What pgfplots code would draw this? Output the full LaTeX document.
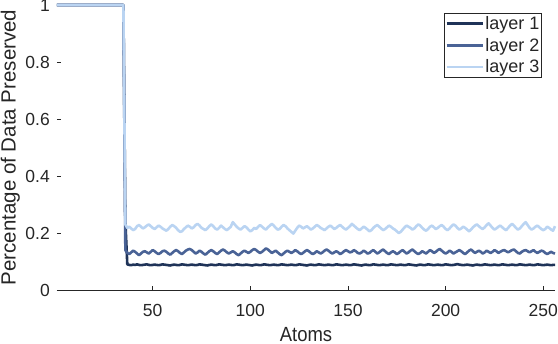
\documentclass[border=0pt]{standalone}
\usepackage{fontspec}
\setmainfont{Liberation Sans}
\newfontfamily\narrowsans[FakeStretch=0.9]{Liberation Sans}
\usepackage{pgfplots}
\usepackage{pgfplotstable}
\pgfplotsset{compat=1.18}

\definecolor{layerA}{HTML}{1F3358}
\definecolor{layerB}{HTML}{4A6396}
\definecolor{layerC}{HTML}{BAD4F2}
\definecolor{txt}{HTML}{262626}

% x, layer 1, layer 2, layer 3
\pgfplotstableread{
x a b c
1 1 1 1
35 1 1 1
36 0.24 0.14 0.23
37 0.09 0.13 0.218
38 0.088 0.126 0.222
39 0.087 0.132 0.216
40 0.089 0.138 0.21
41 0.088 0.134 0.214
42 0.09 0.128 0.224
43 0.088 0.122 0.228
44 0.087 0.128 0.222
45 0.088 0.134 0.216
46 0.089 0.136 0.22
47 0.09 0.132 0.226
48 0.088 0.128 0.23
49 0.087 0.134 0.224
50 0.088 0.14 0.218
51 0.089 0.136 0.214
52 0.088 0.13 0.22
53 0.087 0.126 0.226
54 0.088 0.13 0.222
55 0.09 0.136 0.216
56 0.089 0.138 0.212
57 0.088 0.134 0.208
58 0.087 0.128 0.214
59 0.086 0.124 0.222
60 0.088 0.13 0.228
61 0.089 0.136 0.224
62 0.088 0.14 0.218
63 0.087 0.136 0.21
64 0.088 0.13 0.204
65 0.09 0.126 0.206
66 0.089 0.132 0.214
67 0.088 0.138 0.22
68 0.087 0.142 0.226
69 0.088 0.144 0.222
70 0.089 0.14 0.216
71 0.088 0.134 0.22
72 0.087 0.128 0.228
73 0.088 0.132 0.232
74 0.09 0.138 0.226
75 0.089 0.134 0.218
76 0.088 0.128 0.214
77 0.087 0.124 0.21
78 0.086 0.13 0.216
79 0.088 0.136 0.224
80 0.089 0.14 0.23
81 0.088 0.136 0.224
82 0.087 0.13 0.216
83 0.088 0.126 0.212
84 0.09 0.132 0.218
85 0.089 0.138 0.226
86 0.088 0.142 0.22
87 0.087 0.138 0.214
88 0.088 0.132 0.21
89 0.089 0.128 0.216
90 0.088 0.132 0.222
91 0.087 0.136 0.238
92 0.088 0.132 0.23
93 0.09 0.126 0.222
94 0.089 0.122 0.216
95 0.088 0.128 0.212
96 0.087 0.134 0.218
97 0.088 0.138 0.224
98 0.089 0.134 0.22
99 0.088 0.13 0.212
100 0.087 0.134 0.206
101 0.086 0.14 0.21
102 0.088 0.144 0.218
103 0.089 0.14 0.214
104 0.088 0.134 0.222
105 0.087 0.13 0.228
106 0.088 0.134 0.222
107 0.09 0.14 0.216
108 0.089 0.146 0.212
109 0.088 0.142 0.22
110 0.087 0.136 0.226
111 0.088 0.13 0.232
112 0.089 0.134 0.226
113 0.088 0.138 0.218
114 0.087 0.132 0.212
115 0.088 0.126 0.214
116 0.09 0.122 0.222
117 0.089 0.128 0.228
118 0.088 0.134 0.224
119 0.087 0.138 0.216
120 0.088 0.134 0.21
121 0.089 0.13 0.204
122 0.088 0.134 0.198
123 0.087 0.14 0.208
124 0.088 0.136 0.218
125 0.09 0.13 0.226
126 0.089 0.126 0.222
127 0.088 0.13 0.216
128 0.087 0.136 0.22
129 0.086 0.14 0.224
130 0.088 0.136 0.218
131 0.089 0.13 0.212
132 0.088 0.126 0.216
133 0.087 0.13 0.222
134 0.088 0.136 0.228
135 0.09 0.132 0.224
136 0.089 0.128 0.218
137 0.088 0.132 0.214
138 0.087 0.138 0.21
139 0.088 0.142 0.216
140 0.089 0.138 0.222
141 0.088 0.132 0.226
142 0.087 0.128 0.22
143 0.088 0.132 0.214
144 0.09 0.136 0.218
145 0.089 0.132 0.224
146 0.088 0.126 0.228
147 0.087 0.13 0.222
148 0.088 0.136 0.216
149 0.089 0.14 0.212
150 0.088 0.136 0.218
151 0.087 0.132 0.224
152 0.088 0.134 0.232
153 0.09 0.14 0.226
154 0.089 0.136 0.22
155 0.088 0.13 0.214
156 0.087 0.128 0.21
157 0.086 0.132 0.216
158 0.088 0.138 0.222
159 0.089 0.134 0.218
160 0.088 0.128 0.212
161 0.087 0.13 0.206
162 0.088 0.136 0.21
163 0.09 0.14 0.218
164 0.089 0.134 0.224
165 0.088 0.128 0.228
166 0.087 0.132 0.222
167 0.088 0.138 0.216
168 0.089 0.142 0.21
169 0.088 0.136 0.214
170 0.087 0.13 0.22
171 0.088 0.126 0.226
172 0.09 0.132 0.222
173 0.089 0.136 0.216
174 0.088 0.132 0.212
175 0.087 0.126 0.206
176 0.088 0.13 0.2
177 0.089 0.136 0.204
178 0.088 0.14 0.212
179 0.087 0.134 0.22
180 0.088 0.128 0.226
181 0.09 0.132 0.222
182 0.089 0.138 0.218
183 0.088 0.142 0.212
184 0.087 0.136 0.216
185 0.086 0.13 0.224
186 0.088 0.126 0.23
187 0.089 0.13 0.226
188 0.088 0.136 0.218
189 0.087 0.132 0.212
190 0.088 0.128 0.208
191 0.09 0.134 0.214
192 0.089 0.14 0.222
193 0.088 0.136 0.226
194 0.087 0.13 0.22
195 0.088 0.134 0.214
196 0.089 0.14 0.218
197 0.088 0.144 0.224
198 0.087 0.138 0.228
199 0.088 0.132 0.222
200 0.09 0.128 0.214
201 0.089 0.132 0.21
202 0.088 0.138 0.216
203 0.087 0.134 0.224
204 0.088 0.128 0.23
205 0.089 0.132 0.226
206 0.091 0.136 0.218
207 0.089 0.14 0.212
208 0.088 0.136 0.216
209 0.087 0.13 0.222
210 0.088 0.126 0.218
211 0.089 0.132 0.212
212 0.088 0.138 0.206
213 0.087 0.142 0.212
214 0.086 0.136 0.22
215 0.088 0.13 0.226
216 0.089 0.134 0.23
217 0.088 0.138 0.224
218 0.087 0.134 0.218
219 0.088 0.128 0.214
220 0.09 0.132 0.22
221 0.089 0.138 0.228
222 0.088 0.134 0.234
223 0.087 0.13 0.226
224 0.088 0.134 0.218
225 0.089 0.14 0.212
226 0.088 0.136 0.216
227 0.087 0.13 0.222
228 0.088 0.134 0.226
229 0.09 0.138 0.22
230 0.089 0.14 0.214
231 0.088 0.136 0.21
232 0.087 0.132 0.218
233 0.088 0.136 0.226
234 0.089 0.14 0.232
235 0.088 0.142 0.226
236 0.087 0.136 0.218
237 0.088 0.13 0.212
238 0.09 0.128 0.216
239 0.089 0.134 0.224
240 0.088 0.138 0.232
241 0.087 0.14 0.238
242 0.088 0.136 0.228
243 0.089 0.132 0.218
244 0.088 0.136 0.212
245 0.087 0.14 0.216
246 0.088 0.134 0.222
247 0.09 0.13 0.226
248 0.089 0.134 0.22
249 0.088 0.138 0.214
250 0.087 0.136 0.21
251 0.088 0.13 0.214
252 0.089 0.126 0.222
253 0.088 0.13 0.218
254 0.087 0.134 0.212
255 0.088 0.13 0.208
256 0.088 0.128 0.224
}\datatable

\begin{document}
\begin{tikzpicture}
\begin{axis}[
    scale only axis,
    width=498pt, height=285pt,
    xmin=1, xmax=256,
    ymin=0, ymax=1,
    xtick={50,100,150,200,250},
    ytick={0,0.2,0.4,0.6,0.8,1},
    yticklabels={0,0.2,0.4,0.6,0.8,1},
    axis x line*=bottom,
    axis y line*=left,
    y axis line style={draw=none},
    x axis line style={draw=txt, line width=0.6pt},
    tick align=inside,
    major tick length=4pt,
    every tick/.style={draw=txt, line width=0.6pt},
    tick label style={font=\fontsize{17.5}{19}\selectfont, text=txt},
    yticklabel style={inner xsep=0pt, xshift=-7pt},
    xticklabel style={inner ysep=0pt, anchor=base, yshift=-26.7pt},
    /pgf/number format/assume math mode=true,
    xlabel={Atoms},
    ylabel={Percentage of Data Preserved},
    xlabel style={font=\narrowsans\fontsize{20.5}{22}\selectfont, text=txt,
        at={(axis description cs:0.5,-0.179)}, anchor=base, inner sep=0pt},
    ylabel style={font=\fontsize{20.5}{22}\selectfont, text=txt,
        at={(axis description cs:-0.0743,0.5)}, anchor=south, inner sep=0pt},
    legend style={at={(0.9733,0.973)}, anchor=north east, draw=txt, line width=0.6pt,
        font=\fontsize{18}{20}\selectfont, text=txt, inner xsep=0.5pt, inner ysep=2.5pt,
        row sep=5pt, cells={anchor=west}, nodes={inner xsep=1.5pt, inner ysep=1pt}},
    legend image code/.code={\draw[#1, line width=2.6pt] (0pt,0pt) -- (36pt,0pt);},
    clip=false,
]
\addplot[layerA, line width=2.6pt, line join=round] table[x=x, y=a] {\datatable};
\addplot[layerB, line width=2.6pt, line join=round] table[x=x, y=b] {\datatable};
\addplot[layerC, line width=2.6pt, line join=round] table[x=x, y=c] {\datatable};
\legend{layer 1, layer 2, layer 3}
\end{axis}
\pgfresetboundingbox
\path (-57pt,-54pt) rectangle (501pt,290pt);
\end{tikzpicture}
\end{document}
